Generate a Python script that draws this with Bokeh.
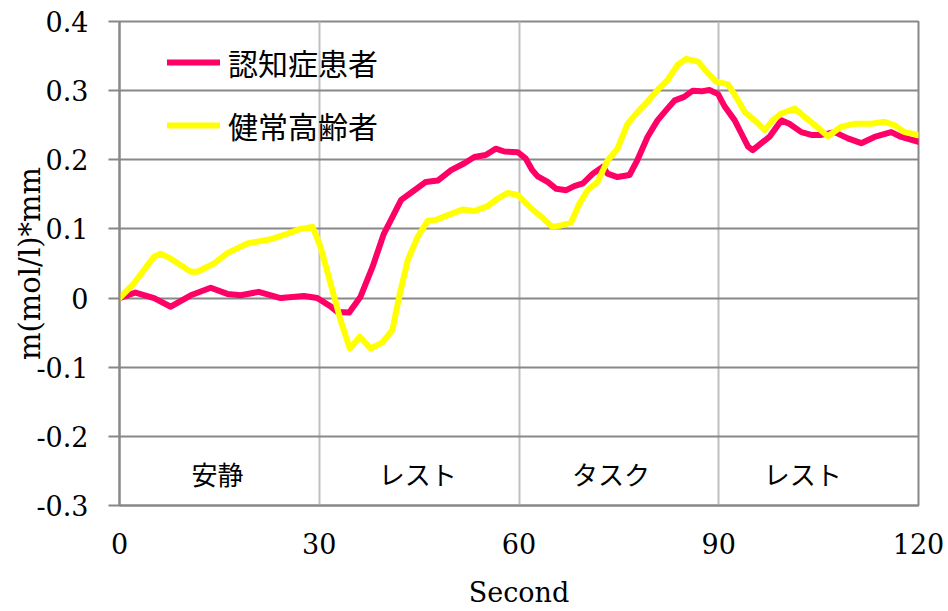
from bokeh.plotting import figure
from bokeh.models import (Range1d, FixedTicker, CustomJSTickFormatter, Legend,
                          LegendItem, ColumnDataSource)
from bokeh.core.properties import value
from bokeh.embed import file_html
from bokeh.resources import INLINE

# Oxy-Hb change over time, two groups
t_patient = [0, 2.4, 5.2, 7.7, 10.7, 13.7, 16.2, 18.2, 20.9, 24.2, 27.7, 29.7,
             31.7, 32.7, 34.5, 36.2, 38.0, 39.7, 42.3, 44.3, 46.0, 47.8, 49.8,
             51.8, 53.3, 55.0, 56.5, 57.8, 59.8, 61.0, 62.0, 62.8, 64.3, 65.6,
             67.1, 68.3, 69.6, 71.1, 72.6, 73.3, 74.8, 76.6, 77.8, 79.3, 80.8,
             82.3, 83.4, 84.8, 86.1, 87.4, 88.6, 89.9, 90.9, 92.4, 93.4, 94.4,
             95.1, 96.4, 97.6, 99.4, 100.6, 102.4, 103.9, 105.4, 107.4, 109.4,
             111.4, 113.4, 115.9, 117.4, 120.0]
v_patient = [0, 0.008, 0.0, -0.0125, 0.004, 0.015, 0.006, 0.004, 0.009, 0.0,
             0.003, 0.0, -0.012, -0.02, -0.021, 0.002, 0.045, 0.093, 0.142,
             0.156, 0.168, 0.170, 0.185, 0.195, 0.204, 0.207, 0.216, 0.212,
             0.211, 0.202, 0.185, 0.176, 0.168, 0.158, 0.156, 0.162, 0.166,
             0.180, 0.190, 0.180, 0.175, 0.178, 0.200, 0.233, 0.257, 0.274,
             0.286, 0.291, 0.300, 0.299, 0.301, 0.295, 0.277, 0.257, 0.238,
             0.219, 0.214, 0.224, 0.233, 0.257, 0.252, 0.240, 0.236, 0.236,
             0.240, 0.231, 0.224, 0.233, 0.240, 0.233, 0.226]

t_healthy = [0, 2.15, 5.2, 6.2, 7.7, 10.7, 11.7, 14.2, 16.2, 19.2, 22.7, 25.2,
             27.2, 29.0, 30.2, 31.7, 33.2, 34.6, 36.1, 37.7, 39.5, 41.0, 42.0,
             43.3, 44.8, 46.3, 47.5, 49.3, 51.5, 53.3, 55.3, 56.8, 58.3, 59.8,
             61.8, 63.3, 65.0, 66.3, 67.8, 69.1, 70.3, 71.8, 73.3, 74.8, 76.3,
             77.8, 79.3, 80.8, 82.3, 83.8, 85.1, 86.9, 88.4, 89.6, 91.4, 92.6,
             93.9, 95.4, 96.9, 98.1, 99.4, 101.4, 102.9, 104.7, 106.4, 108.4,
             110.4, 112.9, 114.9, 116.4, 117.9, 120.0]
v_healthy = [0, 0.021, 0.060, 0.064, 0.057, 0.038, 0.038, 0.050, 0.065, 0.079,
             0.085, 0.093, 0.100, 0.103, 0.074, 0.021, -0.032, -0.073, -0.056,
             -0.073, -0.064, -0.046, 0.002, 0.055, 0.089, 0.112, 0.113, 0.120,
             0.128, 0.126, 0.133, 0.144, 0.152, 0.149, 0.130, 0.118, 0.103,
             0.105, 0.109, 0.137, 0.156, 0.168, 0.199, 0.216, 0.252, 0.269,
             0.284, 0.301, 0.315, 0.337, 0.346, 0.342, 0.325, 0.313, 0.309,
             0.291, 0.269, 0.257, 0.243, 0.257, 0.267, 0.274, 0.262, 0.248,
             0.234, 0.248, 0.252, 0.252, 0.255, 0.250, 0.240, 0.236]

series_names = ["認知症患者", "健常高齢者"]
series_colors = ["#FF0066", "#FFFF00"]

phase_names = ["安静", "レスト", "タスク", "レスト"]
phase_bounds = [0, 30, 60, 90, 120]

x_ticks = [0, 30, 60, 90, 120]
y_ticks = [-0.3, -0.2, -0.1, 0, 0.1, 0.2, 0.3, 0.4]

NUM_FONT = "DejaVu Serif"
CJK_FONT = "Noto Sans CJK JP"

p = figure(width=948, height=611, output_backend="svg", toolbar_location=None,
           x_range=Range1d(0, 120), y_range=Range1d(-0.3, 0.4),
           min_border_left=119, min_border_right=30, min_border_top=21,
           min_border_bottom=106, x_axis_label="Second",
           y_axis_label="m(mol/l)*mm")
p.background_fill_color = "white"
p.border_fill_color = "white"
p.outline_line_color = "#888888"
p.outline_line_width = 2

# grid
p.ygrid.ticker = FixedTicker(ticks=y_ticks)
p.ygrid.grid_line_color = "#888888"
p.ygrid.grid_line_width = 2
p.xgrid.ticker = FixedTicker(ticks=phase_bounds[1:-1])
p.xgrid.grid_line_color = "#bfbfbf"
p.xgrid.grid_line_width = 2

# axes
for ax in (p.xaxis[0], p.yaxis[0]):
    ax.axis_line_color = "#888888"
    ax.axis_line_width = 2
    ax.major_tick_line_color = "#888888"
    ax.major_tick_line_width = 2
    ax.minor_tick_line_color = None
    ax.major_label_text_font = NUM_FONT
    ax.major_label_text_font_size = "27px"
    ax.major_label_text_color = "black"
    ax.axis_label_text_font = NUM_FONT
    ax.axis_label_text_font_style = "normal"
    ax.axis_label_text_color = "black"

p.xaxis.ticker = FixedTicker(ticks=x_ticks)
p.xaxis.major_tick_out = 0
p.xaxis.major_tick_in = 0
p.xaxis.major_label_standoff = 27
p.xaxis.axis_label_standoff = 20
p.xaxis.axis_label_text_font_size = "27px"

p.yaxis.ticker = FixedTicker(ticks=y_ticks)
p.yaxis.formatter = CustomJSTickFormatter(
    code="return Math.abs(tick) < 1e-9 ? '0' : tick.toFixed(1);")
p.yaxis.major_tick_out = 11
p.yaxis.major_tick_in = 0
p.yaxis.major_label_standoff = 20
p.yaxis.axis_label_standoff = -14
p.yaxis.axis_label_text_font_size = "29px"

# phase labels inside the plot, one per 30 s block
phase_label_x = [14.7, 44.8, 73.8, 102.6]
phase_src = ColumnDataSource(dict(x=phase_label_x,
                                  y=[-0.254] * len(phase_names),
                                  text=phase_names))
p.text(x="x", y="y", text="text", source=phase_src, text_align="center",
       text_baseline="middle", text_font=value(CJK_FONT),
       text_font_size="26px", text_color="black")

# series
r1 = p.line(t_patient, v_patient, line_color=series_colors[0], line_width=6,
            line_join="round", line_cap="round")
r2 = p.line(t_healthy, v_healthy, line_color=series_colors[1], line_width=6,
            line_join="round", line_cap="round")

legend = Legend(items=[LegendItem(label=series_names[0], renderers=[r1]),
                       LegendItem(label=series_names[1], renderers=[r2])],
                location=(48, 358), orientation="vertical")
legend.background_fill_alpha = 0
legend.border_line_color = None
legend.padding = 0
legend.margin = 0
legend.spacing = 19
legend.glyph_width = 53
legend.glyph_height = 40
legend.label_height = 40
legend.label_standoff = 8
legend.label_text_font = CJK_FONT
legend.label_text_font_size = "30px"
legend.label_text_color = "black"
legend.label_text_baseline = "middle"
p.add_layout(legend, "center")

open("out.html", "w").write(file_html(p, INLINE))
